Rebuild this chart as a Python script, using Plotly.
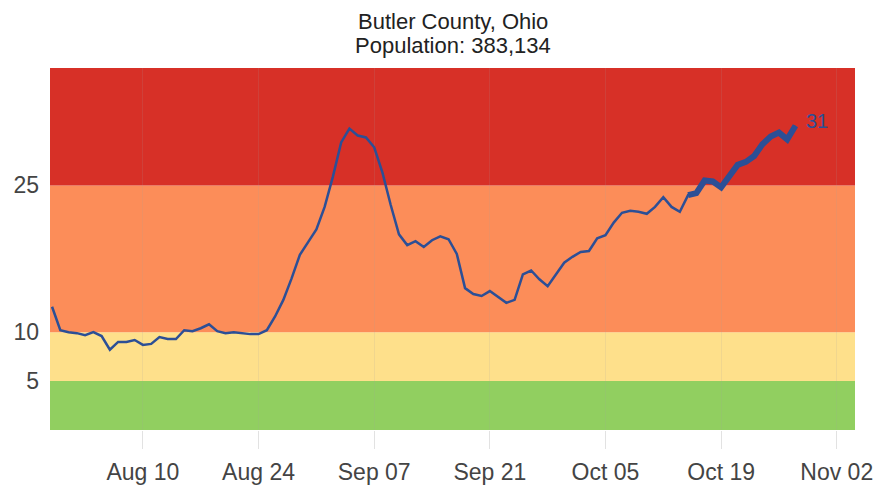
import plotly.graph_objects as go
import pandas as pd

start_date = "2020-07-30"
values = [
    12.6, 10.2, 10.0, 9.9, 9.7, 10.0, 9.6, 8.2, 9.0, 9.0, 9.2, 8.7, 8.8, 9.5, 9.3, 9.3, 10.2,  # Jul30-Aug15
    10.1, 10.4, 10.8, 10.1, 9.9, 10.0, 9.9, 9.8, 9.8, 10.2, 11.6, 13.3,  # Aug16-Aug27
    15.5, 17.9, 19.2, 20.5, 22.8, 25.9, 29.4, 30.8, 30.1, 29.9, 28.9, 26.3,  # Aug28-Sep8
    23.0, 20.0, 18.9, 19.3, 18.7, 19.4, 19.8, 19.5, 18.0, 14.5, 13.9, 13.7, 14.2, 13.6, 13.0, 13.3, 15.9,  # Sep9-Sep25
    16.3, 15.4, 14.7, 15.9, 17.1, 17.7, 18.2, 18.3, 19.6, 19.9, 21.2, 22.2, 22.4, 22.3, 22.1, 22.8, 23.8, 22.8, 22.3, 24.0,  # Sep26-Oct15
    24.2, 25.5, 25.4, 24.8, 25.9, 27.1, 27.4, 28.0, 29.2, 30.0, 30.4, 29.7, 31.1,  # Oct16-Oct28
]
dates = pd.date_range(start_date, periods=len(values), freq="D")
recent_start = "2020-10-15"
last_label = "31"

band_edges = [0, 5, 10, 25, 37]
band_colors = ["#91cf60", "#fee08b", "#fc8d59", "#d73027"]

tick_dates = ["2020-08-10", "2020-08-24", "2020-09-07", "2020-09-21", "2020-10-05", "2020-10-19", "2020-11-02"]
tick_text = ["Aug 10", "Aug 24", "Sep 07", "Sep 21", "Oct 05", "Oct 19", "Nov 02"]
y_ticks = [5, 10, 25]

title_lines = ["Butler County, Ohio", "Population: 383,134"]

df = pd.DataFrame({"date": dates, "value": values})
recent = df[df["date"] >= pd.Timestamp(recent_start)]

FONT = "Liberation Sans, Arial"

fig = go.Figure()
fig.add_trace(go.Scatter(x=df["date"], y=df["value"], mode="lines",
                         line=dict(color="#2c4f96", width=2.5), hoverinfo="skip"))
fig.add_trace(go.Scatter(x=recent["date"], y=recent["value"], mode="lines",
                         line=dict(color="#2c4f96", width=6), hoverinfo="skip"))

fig.add_annotation(x=df["date"].iloc[-1], y=df["value"].iloc[-1], text=last_label,
                   showarrow=False, xanchor="left", yanchor="middle", xshift=9, yshift=5,
                   font=dict(color="#2c4f96", size=20, family=FONT))

for lo, hi, c in zip(band_edges[:-1], band_edges[1:], band_colors):
    fig.add_shape(type="rect", xref="paper", yref="y", x0=0, x1=1, y0=lo, y1=hi,
                  fillcolor=c, line=dict(width=0), layer="below")

for txt, ypos in zip(title_lines, [1.1298, 1.0635]):
    fig.add_annotation(text=txt, xref="paper", yref="paper", x=0.5, y=ypos,
                       xanchor="center", yanchor="middle", showarrow=False, borderpad=0,
                       font=dict(size=22, color="#222", family=FONT))

fig.update_layout(
    width=874, height=478,
    margin=dict(l=42, r=27, t=60, b=56),
    paper_bgcolor="white", plot_bgcolor="white",
    showlegend=False,
    font=dict(family=FONT, size=15, color="#444"),
)
fig.update_xaxes(range=["2020-07-29 18:00", "2020-11-04 05:00"],
                 tickvals=tick_dates, ticktext=tick_text,
                 ticks="outside", ticklen=18, tickcolor="#e2e2e2",
                 showgrid=True, gridcolor="rgba(160,160,160,0.15)",
                 showline=False, zeroline=False, automargin=False,
                 ticklabelstandoff=3,
                 tickfont=dict(size=23, color="#444", family=FONT))
fig.update_yaxes(range=[0, 37], tickvals=y_ticks, ticks="", showgrid=False,
                 zeroline=False, showline=False, ticklabelstandoff=10, automargin=False,
                 tickfont=dict(size=23, color="#444", family=FONT))

fig.write_html("out.html")
